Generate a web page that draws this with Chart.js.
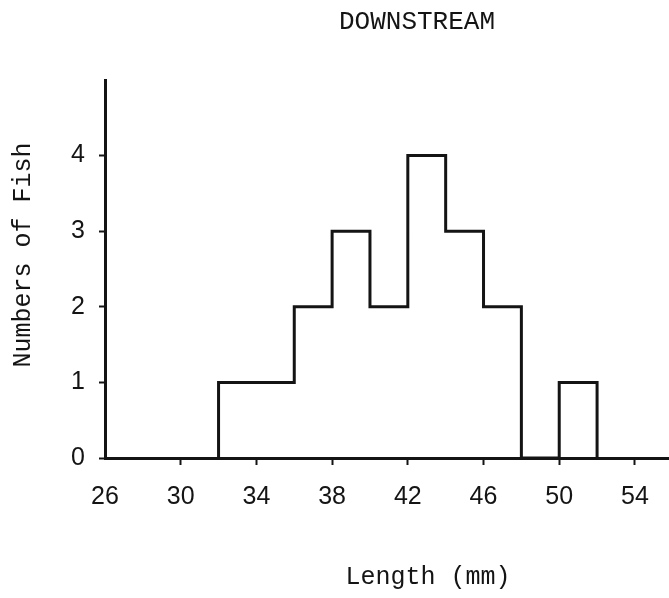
<!DOCTYPE html>
<html>
<head>
<meta charset="utf-8">
<script src="https://cdn.jsdelivr.net/npm/chart.js@4/dist/chart.umd.min.js"></script>
<style>
  body { margin: 0; background: #fff; }
  #wrap { width: 669px; height: 598px; }
</style>
</head>
<body>
<div id="wrap"><canvas id="my-chart" width="669" height="598"></canvas></div>
<script>
// histogram bins (mm) and fish per bin
const binEdges = [32, 36, 38, 40, 42, 44, 46, 48, 50, 52];
const fishCounts = [1, 2, 3, 2, 4, 3, 2, 0, 1];
const xTickValues = [26, 30, 34, 38, 42, 46, 50, 54];
const yTickValues = [0, 1, 2, 3, 4];
const chartTitle = 'DOWNSTREAM';
const xTitle = 'Length (mm)';
const yTitle = 'Numbers of Fish';

const ink = '#141414';
const ctx = document.querySelector('#my-chart');

// outline of the histogram: start at first edge, one point per bin end, drop back to 0
let outline = [{ x: binEdges[0], y: 0 }];
for (let i = 0; i < fishCounts.length; i++) {
  outline.push({ x: binEdges[i + 1], y: fishCounts[i] });
}
outline.push({ x: binEdges[binEdges.length - 1], y: 0 });

// typewritten labels of the original
const typedLabels = {
  id: 'typedLabels',
  afterDraw(chart) {
    const c = chart.ctx;
    c.save();
    c.fillStyle = ink;
    c.textAlign = 'center';
    c.textBaseline = 'middle';
    c.font = '26px "Liberation Mono"';
    c.fillText(chartTitle, 417, 22);
    c.font = '25px "Liberation Mono"';
    c.fillText(xTitle, 428, 577);
    c.translate(23, 255);
    c.rotate(-Math.PI / 2);
    c.fillText(yTitle, 0, 0);
    c.restore();
  }
};

new Chart(ctx, {
  type: 'line',
  data: {
    datasets: [{
      data: outline,
      stepped: 'after',
      borderColor: ink,
      borderWidth: 3,
      pointRadius: 0,
      fill: false,
      tension: 0,
      clip: false
    }]
  },
  options: {
    responsive: false,
    animation: false,
    devicePixelRatio: 1,
    layout: { padding: { top: 80, right: 0, bottom: 0, left: 0 } },
    plugins: {
      legend: { display: false },
      tooltip: { enabled: false }
    },
    scales: {
      x: {
        type: 'linear',
        min: 26,
        max: 55.8,
        afterFit: (s) => { s.height = 140; },
        afterBuildTicks: (s) => { s.ticks = xTickValues.map(v => ({ value: v })); },
        border: { color: ink, width: 3 },
        grid: {
          drawOnChartArea: false,
          tickLength: 7,
          tickWidth: 2,
          tickColor: (c) => (c.tick && c.tick.value === 26 ? 'rgba(0,0,0,0)' : ink)
        },
        ticks: {
          color: ink,
          font: { family: '"Liberation Sans"', size: 25 },
          padding: 17,
          maxRotation: 0,
          autoSkip: false
        }
      },
      y: {
        min: 0,
        max: 5,
        afterFit: (s) => { s.width = 105; },
        afterBuildTicks: (s) => { s.ticks = yTickValues.map(v => ({ value: v })); },
        border: { color: ink, width: 3 },
        grid: {
          drawOnChartArea: false,
          tickLength: 6,
          tickWidth: 2,
          tickColor: ink
        },
        ticks: {
          color: ink,
          font: { family: '"Liberation Sans"', size: 25 },
          padding: 14
        }
      }
    }
  },
  plugins: [typedLabels]
});
</script>
</body>
</html>
